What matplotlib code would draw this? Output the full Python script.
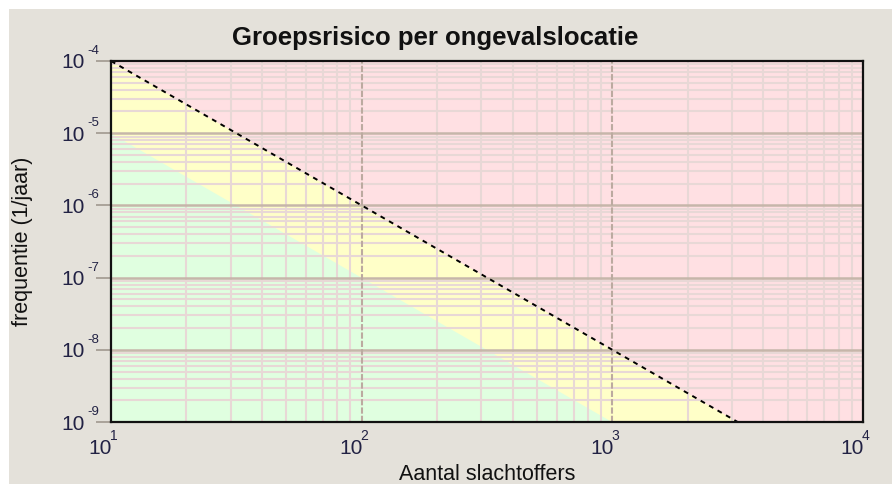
import matplotlib
matplotlib.use("Agg")
import matplotlib.pyplot as plt
import matplotlib.transforms as mtransforms
import numpy as np

plt.rcParams['font.family'] = ['Liberation Sans', 'DejaVu Sans']

# Data
upper_x = [10, 100, 1000, 3162]
upper_y = [1e-4, 1e-6, 1e-8, 1e-9]
lower_x = [10, 100, 1000]
lower_y = [1e-5, 1e-7, 1e-9]
x_ticks = [10, 100, 1000, 10000]
x_exponents = ['1', '2', '3', '4']
y_ticks = [1e-9, 1e-8, 1e-7, 1e-6, 1e-5, 1e-4]
y_exponents = ['-9', '-8', '-7', '-6', '-5', '-4']
tick_base = '10'

title = 'Groepsrisico per ongevalslocatie'
xlabel = 'Aantal slachtoffers'
ylabel = 'frequentie (1/jaar)'

W, H = 892, 484
DPI = 100
fig = plt.figure(figsize=(W / DPI, H / DPI), dpi=DPI)
fig.patch.set_facecolor('white')
fig.patches.append(plt.Rectangle((9 / W, 0), 1 - 9 / W, 1 - 9 / H, transform=fig.transFigure,
                                 facecolor='#e4e1da', edgecolor='none', zorder=-10))

ax = fig.add_axes([111 / W, 1 - 422 / H, (863 - 111) / W, (422 - 61) / H])
ax.set_xscale('log')
ax.set_yscale('log')
ax.set_xlim(10, 10000)
ax.set_ylim(1e-9, 1e-4)
ax.set_facecolor('#ffe0e3')

xx_u = np.array(upper_x, dtype=float)
yy_u = np.array(upper_y, dtype=float)
ax.fill_between(np.concatenate([xx_u, [10000]]), np.concatenate([yy_u, [1e-9]]), 1e-9,
                color='#ffffc8', linewidth=0, zorder=0.5)
xx_l = np.array(lower_x, dtype=float)
yy_l = np.array(lower_y, dtype=float)
ax.fill_between(xx_l, yy_l, 1e-9, color='#e0ffe0', linewidth=0, zorder=0.6)

# grid
for dec in [1e-9, 1e-8, 1e-7, 1e-6, 1e-5]:
    for m in range(2, 10):
        ax.axhline(dec * m, color='#e8d8d6', lw=1.5, zorder=0.9)
for dec in [10, 100, 1000]:
    for m in range(2, 10):
        ax.axvline(dec * m, color='#e8d8d6', lw=1.5, zorder=0.9)
for yv in y_ticks[1:-1]:
    ax.axhline(yv, color='#c6b6aa', lw=1.8, zorder=1)
for xv in x_ticks[1:-1]:
    ax.axvline(xv, color='#bcaaa0', lw=1.5, ls=(0, (3, 1)), zorder=1)

ax.plot(upper_x, upper_y, color='black', lw=1.4, ls=(0, (2.5, 2.5)), zorder=3)

for s in ax.spines.values():
    s.set_color('#111111')
    s.set_linewidth(1.6)
    s.set_zorder(4)

lab_color = '#222244'
ax.set_xticks(x_ticks)
ax.set_xticklabels([tick_base] * len(x_ticks))
ax.set_yticks(y_ticks)
ax.set_yticklabels([tick_base] * len(y_ticks))
ax.minorticks_off()
ax.tick_params(axis='x', length=0, pad=17 * 72 / DPI, labelsize=15, labelcolor=lab_color)
ax.tick_params(axis='y', length=11, width=1.4, color='#aaa39a', pad=11 * 72 / DPI,
               labelsize=15, labelcolor=lab_color)
offset = mtransforms.ScaledTranslation(1 / DPI, 0, fig.dpi_scale_trans)
for lab in ax.get_xticklabels():
    lab.set_horizontalalignment('right')
    lab.set_transform(lab.get_transform() + offset)

# exponents
xt = mtransforms.blended_transform_factory(ax.transData, ax.transAxes)
for xv, e in zip(x_ticks, x_exponents):
    tr = xt + mtransforms.ScaledTranslation(3 / DPI, -14 / DPI, fig.dpi_scale_trans)
    ax.text(xv, 0, e, transform=tr, fontsize=10, color=lab_color, ha='center', va='center',
            clip_on=False)
yt = mtransforms.blended_transform_factory(ax.transAxes, ax.transData)
for yv, e in zip(y_ticks, y_exponents):
    tr = yt + mtransforms.ScaledTranslation(-24 / DPI, 10 / DPI, fig.dpi_scale_trans)
    ax.text(0, yv, e, transform=tr, fontsize=9.5, color=lab_color, ha='left', va='center',
            clip_on=False)

fig.text(435 / W, 1 - 38 / H, title, fontsize=18.5, fontweight='bold', color='#111111',
         ha='center', va='center')
fig.text(487 / W, 1 - 474 / H, xlabel, fontsize=15.5, color='#111111', ha='center', va='center')
fig.text(23 / W, 1 - 241 / H, ylabel, fontsize=15.5, color='#111111', ha='center', va='center',
         rotation=90)

fig.savefig('out.png', dpi=DPI, facecolor=fig.get_facecolor())
